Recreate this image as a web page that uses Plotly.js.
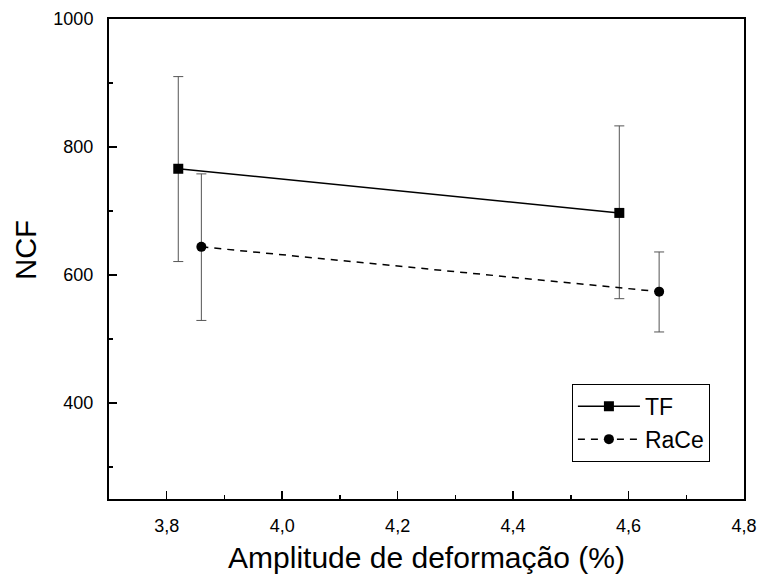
<!DOCTYPE html>
<html>
<head>
<meta charset="utf-8">
<script src="https://cdn.plot.ly/plotly-3.0.1.min.js"></script>
<style>
  html, body { margin: 0; padding: 0; background: #fff; }
  #chart { width: 759px; height: 576px; }
</style>
</head>
<body>
<div id="chart"></div>
<script>
// Number of cycles to failure vs. strain amplitude, two test groups
const tfAmplitude = [3.82, 4.584];
const tfNcf = [766, 697];
const tfErrPlus = [144, 136];
const tfErrMinus = [145, 134];

const raceAmplitude = [3.86, 4.653];
const raceNcf = [644, 574];
const raceErrPlus = [114, 62];
const raceErrMinus = [115, 63];

const seriesNames = ['TF', 'RaCe'];

const errStyle = { type: 'data', symmetric: false, color: '#555', thickness: 1, width: 5 };

const traces = [
  {
    x: tfAmplitude, y: tfNcf, name: seriesNames[0],
    type: 'scatter', mode: 'lines+markers',
    line: { color: '#000', width: 1.5 },
    marker: { symbol: 'square', size: 10, color: '#000' },
    error_y: Object.assign({ array: tfErrPlus, arrayminus: tfErrMinus }, errStyle)
  },
  {
    x: raceAmplitude, y: raceNcf, name: seriesNames[1],
    type: 'scatter', mode: 'lines+markers',
    line: { color: '#000', width: 1.5, dash: '7px,6px' },
    marker: { symbol: 'circle', size: 10, color: '#000' },
    error_y: Object.assign({ array: raceErrPlus, arrayminus: raceErrMinus }, errStyle)
  }
];

const font = 'Liberation Sans, Arial, sans-serif';

const layout = {
  width: 759, height: 576,
  margin: { l: 109, r: 15, t: 19, b: 77 },
  paper_bgcolor: '#fff', plot_bgcolor: '#fff',
  separators: ',.',
  showlegend: true,
  font: { family: font, color: '#000' },
  xaxis: {
    range: [3.7, 4.8], tick0: 3.8, dtick: 0.2, tickformat: '.1f',
    ticks: 'inside', ticklen: 8, tickwidth: 1.5, tickcolor: '#000',
    minor: { dtick: 0.1, ticks: 'inside', ticklen: 4, tickwidth: 1.5, tickcolor: '#000' },
    showline: true, linecolor: '#000', linewidth: 2, mirror: true,
    showgrid: false, zeroline: false,
    ticklabelstandoff: 9,
    tickfont: { size: 18, family: font },
    title: { text: 'Amplitude de deformação (%)', font: { size: 30, family: font }, standoff: 12 }
  },
  yaxis: {
    range: [250, 1000], tick0: 400, dtick: 200,
    ticks: 'inside', ticklen: 8, tickwidth: 1.5, tickcolor: '#000',
    minor: { dtick: 100, ticks: 'inside', ticklen: 4, tickwidth: 1.5, tickcolor: '#000' },
    showline: true, linecolor: '#000', linewidth: 2, mirror: true,
    showgrid: false, zeroline: false,
    ticklabelstandoff: 10,
    tickfont: { size: 18, family: font }
  },
  annotations: [
    {
      text: 'NCF', xref: 'paper', yref: 'paper', x: -0.131, y: 0.519,
      xanchor: 'center', yanchor: 'middle', textangle: -90, showarrow: false,
      font: { size: 29, family: font }
    }
  ],
  legend: {
    x: 0.729, y: 0.24, xanchor: 'left', yanchor: 'top',
    bgcolor: '#fff', bordercolor: '#000', borderwidth: 1,
    font: { size: 23, family: font },
    itemwidth: 62, tracegroupgap: 0
  }
};

Plotly.newPlot('chart', traces, layout, { displayModeBar: false, staticPlot: true });
</script>
</body>
</html>
